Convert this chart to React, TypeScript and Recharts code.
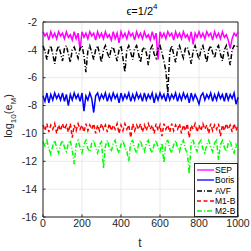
import { LineChart, Line, XAxis, YAxis, CartesianGrid, ReferenceLine } from 'recharts'

// sampled every 10 time units, t = 0..1000
const T = Array.from({ length: 101 }, (_, i) => i * 10)

const SEP = [
  -2.7, -3.0, -2.8, -3.3, -2.7, -3.1, -2.8, -3.2, -2.7, -3.0,
  -2.8, -3.2, -2.7, -3.1, -2.9, -3.3, -2.7, -3.2, -2.8, -4.0,
  -2.7, -3.1, -2.8, -3.2, -2.7, -3.0, -2.8, -3.3, -2.7, -3.1,
  -2.8, -3.2, -2.7, -3.1, -2.9, -3.3, -2.7, -3.2, -2.8, -3.5,
  -2.7, -3.1, -2.8, -3.2, -2.7, -3.0, -2.8, -3.3, -2.7, -3.1,
  -2.8, -3.2, -2.7, -3.1, -2.9, -3.3, -2.7, -3.2, -2.8, -4.7,
  -2.7, -3.1, -2.8, -3.2, -2.7, -3.0, -2.8, -3.3, -2.7, -3.1,
  -2.8, -3.2, -2.7, -3.1, -2.9, -3.3, -2.7, -3.6, -2.8, -3.1,
  -2.7, -3.1, -2.8, -3.2, -2.7, -3.0, -2.8, -3.3, -2.7, -3.1,
  -2.8, -3.2, -2.7, -3.1, -2.9, -3.3, -3.9, -3.2, -2.8, -3.0,
  -2.7,
]

const BORIS = [
  -7.3, -7.7, -7.1, -7.8, -7.2, -7.6, -7.1, -7.5, -7.2, -7.6,
  -7.1, -7.7, -7.2, -8.0, -7.2, -7.6, -7.1, -7.5, -7.2, -7.7,
  -7.1, -8.4, -7.3, -7.6, -7.1, -7.5, -8.5, -7.3, -7.1, -7.6,
  -7.2, -7.5, -7.1, -7.7, -7.2, -7.6, -7.1, -7.5, -7.2, -7.8,
  -7.1, -7.6, -7.2, -7.5, -7.1, -7.7, -7.2, -7.6, -7.1, -7.5,
  -7.2, -7.7, -7.1, -7.6, -7.2, -7.5, -7.1, -7.8, -7.2, -7.6,
  -7.1, -7.5, -7.2, -7.7, -7.1, -7.6, -7.2, -7.5, -7.1, -7.7,
  -7.2, -7.6, -7.1, -7.5, -7.2, -7.8, -7.1, -7.6, -7.2, -7.5,
  -7.9, -7.3, -7.1, -7.6, -7.2, -7.5, -7.1, -7.7, -7.2, -7.6,
  -7.1, -7.5, -7.2, -7.7, -7.1, -7.6, -7.2, -7.5, -7.1, -7.9,
  -7.4,
]

const AVF = [
  -3.7, -4.1, -4.7, -4.0, -3.7, -4.3, -5.0, -4.1, -3.7, -4.2,
  -4.8, -3.9, -3.7, -4.3, -4.9, -4.0, -3.8, -4.2, -4.6, -3.9,
  -3.7, -4.4, -5.6, -4.1, -3.7, -4.2, -4.7, -4.0, -3.7, -4.3,
  -4.9, -4.0, -3.7, -4.2, -4.6, -3.9, -3.8, -4.3, -4.8, -4.0,
  -3.7, -4.6, -5.6, -4.0, -3.7, -4.2, -4.7, -3.9, -3.7, -4.3,
  -4.9, -4.0, -3.8, -4.2, -5.1, -4.0, -3.7, -4.3, -4.6, -3.9,
  -3.7, -4.2, -4.8, -5.5, -7.1, -4.2, -3.7, -4.3, -4.9, -4.0,
  -3.7, -4.2, -4.6, -3.9, -3.8, -4.3, -5.0, -4.1, -3.7, -4.2,
  -4.7, -4.0, -3.7, -4.3, -4.9, -4.0, -3.7, -4.2, -4.6, -3.9,
  -3.7, -4.3, -4.8, -4.0, -3.7, -4.4, -5.1, -4.0, -3.7, -3.8,
  -3.7,
]

const M1B = [
  -9.4, -9.8, -9.3, -9.9, -9.4, -9.7, -9.3, -10.0, -9.4, -9.8,
  -9.3, -9.7, -9.4, -9.9, -9.3, -10.3, -9.4, -9.8, -9.3, -9.7,
  -9.4, -9.9, -9.3, -9.8, -9.4, -9.7, -9.3, -10.0, -9.4, -9.8,
  -9.3, -9.7, -9.4, -9.9, -9.3, -9.8, -9.4, -9.7, -9.3, -10.0,
  -9.4, -9.8, -9.3, -9.7, -9.4, -10.3, -9.3, -9.8, -9.4, -9.7,
  -9.3, -9.9, -9.4, -9.8, -9.3, -9.7, -9.4, -10.0, -9.3, -9.8,
  -9.4, -10.2, -9.3, -9.7, -9.4, -9.9, -9.3, -9.8, -9.4, -9.7,
  -9.3, -10.0, -9.4, -9.8, -9.3, -10.3, -9.4, -9.7, -9.3, -9.9,
  -9.4, -9.8, -9.3, -9.7, -9.4, -10.0, -9.3, -9.8, -9.4, -9.7,
  -9.3, -10.2, -9.4, -9.8, -9.3, -9.7, -9.4, -9.9, -9.3, -9.8,
  -9.4,
]

const M2B = [
  -10.6, -10.9, -10.5, -11.1, -11.5, -10.9, -10.5, -11.0, -11.4, -10.8,
  -10.5, -11.0, -11.3, -10.7, -10.5, -11.2, -12.2, -10.8, -10.5, -11.0,
  -11.4, -10.8, -10.5, -11.1, -11.3, -10.7, -10.5, -11.0, -11.4, -10.8,
  -10.6, -12.5, -10.9, -10.5, -11.0, -11.3, -10.7, -10.5, -11.1, -11.4,
  -10.8, -10.5, -11.0, -11.3, -12.0, -10.6, -10.5, -11.1, -11.4, -10.8,
  -10.5, -11.0, -11.3, -10.7, -10.5, -11.1, -11.4, -10.8, -10.5, -11.0,
  -11.3, -10.7, -12.1, -10.6, -10.5, -11.1, -11.4, -10.8, -10.5, -11.0,
  -11.3, -10.7, -10.5, -11.1, -11.4, -12.9, -10.6, -10.5, -11.0, -11.3,
  -10.7, -10.5, -11.1, -11.4, -10.8, -10.5, -11.0, -11.3, -10.7, -10.5,
  -11.9, -10.8, -10.5, -11.0, -11.3, -10.7, -10.5, -11.1, -11.4, -10.8,
  -11.1,
]

const X_TICKS = [0, 200, 400, 600, 800, 1000]
const Y_TICKS = [-16, -14, -12, -10, -8, -6, -4, -2]

const SERIES = [
  { key: 'sep', name: 'SEP', color: '#ff00ff', dash: undefined },
  { key: 'boris', name: 'Boris', color: '#0000ff', dash: undefined },
  { key: 'avf', name: 'AVF', color: '#000000', dash: '5 2 1 2' },
  { key: 'm1b', name: 'M1-B', color: '#ff0000', dash: '4 2.5' },
  { key: 'm2b', name: 'M2-B', color: '#00ff00', dash: '5 2 1 2' },
]

const data = T.map((t, i) => ({
  t,
  sep: SEP[i],
  boris: BORIS[i],
  avf: AVF[i],
  m1b: M1B[i],
  m2b: M2B[i],
}))

const font = '"Liberation Sans", Arial, sans-serif'
const ink = '#262626'

function LegendBox() {
  return (
    <div
      style={{
        position: 'absolute',
        left: 194,
        top: 163,
        width: 44,
        height: 54,
        background: '#fff',
        border: `1px solid ${ink}`,
        boxSizing: 'border-box',
        paddingTop: 1,
        fontFamily: font,
        fontSize: 8.5,
        lineHeight: '10px',
        color: '#000',
        whiteSpace: 'nowrap',
      }}
    >
      {SERIES.map((s) => (
        <div key={s.key} style={{ display: 'flex', alignItems: 'center', height: 10.3 }}>
          <svg width={19} height={8} style={{ marginLeft: 1, flex: 'none' }}>
            <line
              x1={1}
              y1={4}
              x2={18}
              y2={4}
              stroke={s.color}
              strokeWidth={1.3}
              strokeDasharray={s.dash}
            />
          </svg>
          <span>{s.name}</span>
        </div>
      ))}
    </div>
  )
}

export default function App() {
  return (
    <div style={{ position: 'absolute', left: 0, top: 0, width: 251, height: 251, background: '#fff' }}>
      <LineChart
        width={251}
        height={251}
        data={data}
        margin={{ top: 22, right: 13, bottom: 14, left: 13 }}
      >
        <CartesianGrid stroke="#e3e3e3" strokeWidth={0.8} />
        <XAxis
          dataKey="t"
          type="number"
          domain={[0, 1000]}
          ticks={X_TICKS}
          interval={0}
          height={20}
          tickSize={-2.5}
          tickMargin={5.5}
          tickLine={{ stroke: ink }}
          stroke={ink}
          tick={{ fontSize: 10.5, fill: ink, fontFamily: font }}
        />
        <YAxis
          type="number"
          domain={[-16, -2]}
          ticks={Y_TICKS}
          interval={0}
          width={30}
          tickSize={-2.5}
          tickMargin={8.5}
          tickLine={{ stroke: ink }}
          stroke={ink}
          tick={{ fontSize: 10.5, fill: ink, fontFamily: font }}
        />
        <ReferenceLine y={-2} stroke={ink} />
        <ReferenceLine x={1000} stroke={ink} />
        {SERIES.map((s) => (
          <Line
            key={s.key}
            dataKey={s.key}
            name={s.name}
            stroke={s.color}
            strokeWidth={1.5}
            strokeDasharray={s.dash}
            dot={false}
            isAnimationActive={false}
          />
        ))}
      </LineChart>
      <LegendBox />
      <div
        style={{
          position: 'absolute',
          left: 0,
          width: 284,
          top: 5,
          textAlign: 'center',
          fontFamily: font,
          fontSize: 11,
          color: '#000',
        }}
      >
        ϵ=1/2<sup style={{ fontSize: 8, verticalAlign: 'top', position: 'relative', top: -3 }}>4</sup>
      </div>
      <div
        style={{
          position: 'absolute',
          left: 130,
          top: 236,
          width: 20,
          textAlign: 'center',
          fontFamily: font,
          fontSize: 12,
          color: ink,
        }}
      >
        t
      </div>
      <div
        style={{
          position: 'absolute',
          left: 10,
          top: 116,
          transform: 'translate(-50%, -50%) rotate(-90deg)',
          whiteSpace: 'nowrap',
          fontFamily: font,
          fontSize: 11,
          color: ink,
        }}
      >
        log<sub style={{ fontSize: 8 }}>10</sub>(e<sub style={{ fontSize: 8 }}>M</sub>)
      </div>
    </div>
  )
}
